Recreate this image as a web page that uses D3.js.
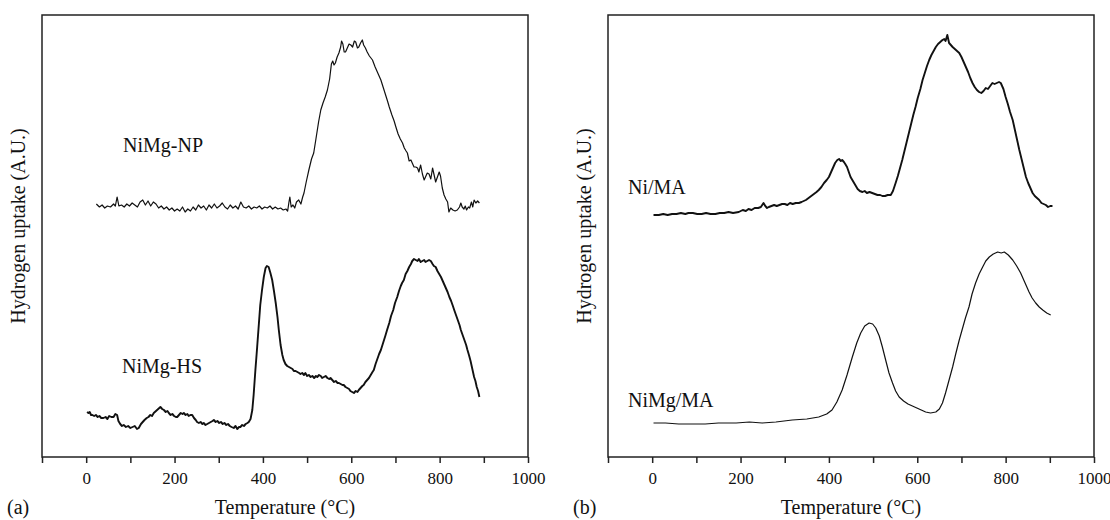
<!DOCTYPE html>
<html>
<head>
<meta charset="utf-8">
<script src="https://cdn.jsdelivr.net/npm/d3@7"></script>
<style>
  body { margin: 0; background: #fff; }
  svg text { font-family: "Liberation Serif", "Times New Roman", serif; fill: #111; }
</style>
</head>
<body>
<div id="chart"></div>
<script>
// temperature (°C) and hydrogen uptake (arbitrary units)
var npTemp = [23,30,36,42,48,55,62,66,70,74,80,86,92,98,104,110,116,122,128,134,140,146,152,158,164,170,176,182,188,194,200,206,212,218,224,230,236,242,248,254,260,266,272,278,284,290,296,302,308,314,320,326,332,338,344,350,356,362,368,374,380,386,392,398,404,410,416,422,428,434,440,446,452,456,459,461,464,468,472,476,481,486,490,493,498,504,510,515,520,526,531,536,541,546,551,555,558,561,564,568,572,576,578,581,584,587,591,595,599,603,607,610,614,617,621,625,628,632,636,641,648,654,660,667,672,677,682,686,692,697,701,706,711,716,720,724,727,731,735,738,742,746,750,753,757,761,765,768,772,776,780,784,787,791,795,799,802,806,810,814,818,821,825,830,835,840,845,848,851,855,858,861,865,868,872,875,878,882,886,890];
var npVal  = [253,250,252,249,251,250,253,251,260,251,252,250,253,251,254,252,250,255,257,252,256,251,255,253,249,251,248,250,247,249,246,248,246,250,245,248,246,250,247,252,249,251,247,252,249,253,249,251,254,250,248,252,249,251,248,255,250,249,251,248,250,249,251,248,250,249,251,248,250,248,249,247,248,246,255,260,250,252,249,255,257,253,260,264,275,287,298,304,318,335,347,354,360,367,378,393,396,392,394,400,404,410,416,413,405,405,409,413,412,410,416,415,409,410,414,417,412,409,405,401,397,390,384,377,370,363,356,350,342,336,330,323,318,314,309,306,304,296,297,294,290,290,289,285,292,283,277,280,284,283,278,289,283,275,280,285,281,269,262,258,255,245,249,247,246,247,250,254,250,248,251,247,250,249,255,250,257,254,256,254];

var hsTemp = [2,5,8,11,14,18,22,26,30,34,39,44,48,52,57,62,66,70,73,77,81,85,90,95,100,105,110,115,119,124,128,132,137,141,145,149,153,158,163,168,172,176,180,184,187,191,195,199,203,206,210,214,218,221,225,229,232,236,240,244,248,251,255,259,263,266,270,274,278,282,286,289,293,297,301,305,309,313,317,321,325,329,334,338,342,346,349,353,357,361,365,368,372,376,379,383,387,391,394,398,402,406,409,413,417,421,425,429,433,436,440,444,447,451,455,459,463,467,470,474,478,482,485,489,493,496,500,504,508,512,516,520,523,527,531,534,538,542,546,550,553,557,561,565,569,572,576,580,583,587,591,595,598,602,606,610,614,617,621,625,628,632,636,640,644,648,651,655,659,663,667,672,677,681,686,690,695,699,704,708,712,715,719,723,727,731,735,738,742,746,750,753,757,761,765,768,772,776,780,784,787,791,795,799,803,807,811,815,818,822,826,830,833,837,841,845,848,852,856,860,863,867,870,874,878,881,884,887,890];
var hsVal  = [45,44,45,42,42,41,42,40,41,39,39,40,38,41,40,40,43,42,36,33,31,32,30,31,29,30,31,28,29,33,35,37,39,40,42,41,44,46,48,50,48,47,45,46,44,42,43,41,40,40,42,44,43,44,42,43,41,42,42,39,37,35,34,35,33,34,32,33,34,35,36,37,35,36,34,35,33,34,32,33,31,30,29,31,28,30,30,32,31,33,34,35,38,47,62,87,110,134,152,167,180,189,191,190,184,177,166,154,140,127,112,102,97,93,91,90,89,88,86,86,85,84,83,84,82,84,81,82,80,81,79,81,80,82,81,79,80,81,79,78,79,77,75,76,74,74,73,72,72,70,69,68,66,65,64,66,65,67,69,71,72,75,77,79,82,85,87,93,98,103,107,114,121,127,134,141,147,154,160,166,171,174,177,183,186,190,193,196,198,197,196,198,195,196,197,195,196,197,196,193,191,190,186,183,180,176,172,168,165,160,156,151,147,142,137,132,127,122,117,112,107,101,96,88,80,76,70,66,60];

var niTemp = [3,15,25,35,45,55,65,75,82,92,102,112,122,132,143,153,163,173,183,196,205,212,218,225,232,240,246,252,256,260,264,270,276,282,288,294,300,306,312,318,325,332,338,343,348,354,360,366,372,377,383,389,395,400,405,410,414,419,423,427,430,434,437,441,445,449,453,457,461,465,470,476,481,486,492,498,504,510,516,521,527,533,540,545,551,556,561,566,571,576,581,586,591,596,601,607,612,617,622,627,632,637,642,647,652,657,661,664,668,672,676,680,685,690,695,700,705,710,715,720,725,730,735,740,745,750,755,760,765,770,775,780,785,789,795,800,805,810,816,821,826,831,836,841,846,851,856,861,866,871,876,881,886,891,896,901,906];
var niVal  = [242,242,243,242,243,243,244,243,244,244,243,243,244,243,243,244,244,245,244,245,247,246,248,247,249,249,250,254,251,249,250,251,252,251,252,253,253,252,254,253,254,254,255,256,257,259,261,263,265,267,270,274,277,280,285,290,294,297,298,296,297,295,293,290,285,280,277,274,271,268,266,265,266,264,265,264,263,262,262,261,261,262,262,266,274,281,289,297,306,315,324,333,342,350,359,368,377,384,391,397,402,406,410,413,415,417,418,416,422,414,412,410,408,406,404,400,395,390,385,379,374,370,367,365,364,366,369,368,371,374,373,374,375,374,368,360,353,345,337,327,317,307,298,289,280,274,269,264,261,259,257,254,253,252,250,251,251];

var nimgTemp = [3,30,60,90,120,150,190,220,249,280,317,350,377,395,407,418,430,441,453,463,472,481,491,499,506,514,521,529,536,544,551,559,569,579,589,599,609,619,630,642,650,657,664,672,680,687,695,702,709,717,724,732,740,748,755,763,772,782,790,797,806,816,825,834,843,853,860,868,876,884,893,902];
var nimgVal  = [34,34,33,33,33,34,34,35,34,35,37,38,40,43,47,55,67,82,100,114,124,131,134,133,129,121,110,96,84,74,66,60,56,53,51,49,47,45,44,45,48,54,64,77,90,103,117,128,139,150,163,174,183,190,196,200,203,205,204,205,202,197,191,184,175,165,159,154,150,147,144,142];

var tempTicks = d3.range(-100, 1001, 100);

var svg = d3.select("#chart").append("svg")
    .attr("width", 1110)
    .attr("height", 520);

function drawPanel(left, letter, series) {
    var top = 15, bottom = 457, width = 486;

    var x = d3.scaleLinear().domain([-100, 1000]).range([0, width]);
    var y = d3.scaleLinear().domain([0, 442]).range([bottom - top, 0]);

    var g = svg.append("g").attr("transform", "translate(" + left + "," + top + ")");

    g.append("rect")
        .attr("width", width)
        .attr("height", bottom - top)
        .attr("fill", "none")
        .attr("stroke", "#222")
        .attr("stroke-width", 1.5);

    g.append("g")
        .attr("transform", "translate(0," + (bottom - top) + ")")
        .call(d3.axisBottom(x).tickValues(tempTicks).tickSize(6).tickPadding(9)
            .tickFormat(function(d) { return (d >= 0 && d % 200 === 0) ? d : ""; }))
        .call(a => a.select(".domain").remove())
        .call(a => a.selectAll("line").attr("stroke", "#222").attr("stroke-width", 1.5))
        .selectAll("text")
            .attr("font-family", "Liberation Serif")
            .attr("font-size", 17)
            .attr("fill", "#111");

    var line = d3.line()
        .x(function(d) { return x(d[0]); })
        .y(function(d) { return y(d[1]); });

    series.forEach(function(s) {
        g.append("path")
            .datum(d3.zip(s.temp, s.val))
            .attr("d", line)
            .attr("fill", "none")
            .attr("stroke", "#111")
            .attr("stroke-width", s.w)
            .attr("stroke-linejoin", "round");

        g.append("text")
            .attr("x", s.lx)
            .attr("y", s.ly - top)
            .attr("font-size", 20)
            .text(s.name);
    });

    svg.append("text")
        .attr("transform", "translate(" + (left - 17) + ",226) rotate(-90)")
        .attr("text-anchor", "middle")
        .attr("font-size", 20)
        .text("Hydrogen uptake (A.U.)");

    svg.append("text")
        .attr("x", left + width / 2)
        .attr("y", 514)
        .attr("text-anchor", "middle")
        .attr("font-size", 20)
        .text("Temperature (\u00B0C)");

    svg.append("text")
        .attr("x", left - 35)
        .attr("y", 514)
        .attr("font-size", 20)
        .text(letter);
}

drawPanel(42, "(a)", [
    { name: "NiMg-NP", temp: npTemp, val: npVal, w: 1.2, lx: 81, ly: 152 },
    { name: "NiMg-HS", temp: hsTemp, val: hsVal, w: 1.9, lx: 80, ly: 373 }
]);
drawPanel(608, "(b)", [
    { name: "Ni/MA", temp: niTemp, val: niVal, w: 1.9, lx: 20, ly: 194 },
    { name: "NiMg/MA", temp: nimgTemp, val: nimgVal, w: 1.2, lx: 20, ly: 407 }
]);
</script>
</body>
</html>
